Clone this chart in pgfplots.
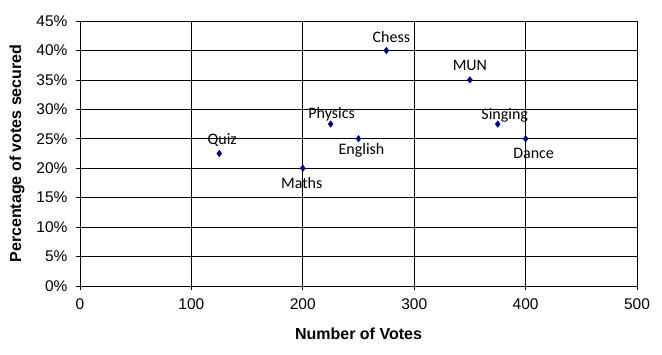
\documentclass[border=0pt]{standalone}
\usepackage{pgfplots}
\pgfplotsset{compat=1.18}
\usepackage{fontspec}
\setmainfont{Liberation Sans}
\newfontfamily\calibri{Carlito}
\definecolor{navy}{RGB}{0,0,128}
\begin{document}
\begin{tikzpicture}
\path[use as bounding box] (-80pt,-69pt) rectangle (582pt,286pt);
\begin{axis}[
  at={(0,0)}, anchor=south west,
  scale only axis, width=557pt, height=265pt,
  xmin=0, xmax=500, ymin=0, ymax=45,
  xtick={0,100,...,500}, ytick={0,5,...,45},
  grid=major,
  major grid style={black, line width=0.7pt},
  axis line style={black, line width=0.7pt},
  tick style={black, line width=0.7pt},
  tick align=outside, xtick pos=bottom, ytick pos=left,
  major tick length=4pt,
  /pgf/number format/assume math mode=true,
  yticklabel={\pgfmathprintnumber{\tick}\%},
  ticklabel style={font=\fontsize{15.5}{15.5}\selectfont},
  xticklabel style={yshift=-5pt},
  yticklabel style={xshift=-5pt},
  every axis x label/.style={at={(axis description cs:0.5,-0.181)}, anchor=center},
  every axis y label/.style={at={(axis description cs:-0.113,0.5)}, anchor=center, rotate=90},
  label style={font=\bfseries\fontsize{16}{16}\selectfont},
  xlabel={Number of Votes},
  ylabel={Percentage of votes secured},
]
\addplot[only marks, mark=diamond*, mark size=3.3pt, color=navy,
  nodes near coords, point meta=explicit symbolic,
  visualization depends on={value \thisrow{dx} \as \dx},
  visualization depends on={value \thisrow{dy} \as \dy},
  nodes near coords style={anchor=center, xshift=\dx pt, yshift=\dy pt,
    font=\calibri\fontsize{16}{16}\selectfont, text=black, inner sep=0pt}]
  table[x=x, y=y, meta=label] {
  x    y     label    dx  dy
  125  22.5  Quiz     3   13
  200  20    Maths    -1  -15
  225  27.5  Physics  1   10
  250  25    English  3   -12
  275  40    Chess    5   13
  350  35    MUN      0   14
  375  27.5  Singing  7   9
  400  25    Dance    8   -15
  };
\end{axis}
\end{tikzpicture}
\end{document}
